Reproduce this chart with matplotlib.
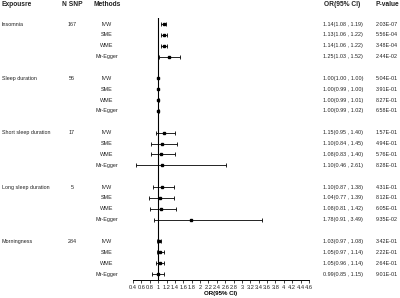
import matplotlib
matplotlib.use("Agg")
from matplotlib import pyplot as plt
from matplotlib import transforms

plt.rcParams["font.family"] = ["Liberation Sans", "DejaVu Sans"]

exposures = ["Insomnia", "Sleep duration", "Short sleep duration", "Long sleep duration", "Morningness"]
n_snp = [167, 56, 17, 5, 284]
methods = ["IVW", "SME", "WME", "Mr-Egger"]

or_est = [
    [1.14, 1.13, 1.14, 1.25],
    [1.00, 1.00, 1.00, 1.00],
    [1.15, 1.10, 1.08, 1.10],
    [1.10, 1.04, 1.08, 1.78],
    [1.03, 1.05, 1.05, 0.99],
]
ci_low = [
    [1.08, 1.06, 1.06, 1.03],
    [1.00, 0.99, 0.99, 0.99],
    [0.95, 0.84, 0.83, 0.46],
    [0.87, 0.77, 0.81, 0.91],
    [0.97, 0.97, 0.96, 0.85],
]
ci_high = [
    [1.19, 1.22, 1.22, 1.52],
    [1.00, 1.00, 1.01, 1.02],
    [1.40, 1.45, 1.40, 2.61],
    [1.38, 1.39, 1.42, 3.49],
    [1.08, 1.14, 1.14, 1.15],
]
p_values = [
    ["2.03E-07", "5.56E-04", "3.48E-04", "2.44E-02"],
    ["5.04E-01", "3.91E-01", "8.27E-01", "6.58E-01"],
    ["1.57E-01", "4.94E-01", "5.76E-01", "8.28E-01"],
    ["4.31E-01", "8.12E-01", "6.05E-01", "9.35E-02"],
    ["3.42E-01", "2.22E-01", "2.64E-01", "9.01E-01"],
]
x_ticks = [round(0.4 + 0.2 * i, 1) for i in range(22)]

fig = plt.figure(figsize=(4.0, 2.98), dpi=100)
ax = fig.add_axes([0.3325, 0.0604, 0.44, 0.879])

text_kw = dict(fontsize=3.9, color="#222222", va="center")
head_kw = dict(fontsize=4.8, color="#222222", va="center", fontweight="bold")

# row positions: 4 methods per exposure plus a blank row between groups
trans = transforms.blended_transform_factory(fig.transFigure, ax.transData)
for g, exp in enumerate(exposures):
    for m, meth in enumerate(methods):
        y = g * 5 + m
        est, lo, hi = or_est[g][m], ci_low[g][m], ci_high[g][m]
        ax.errorbar(est, y, xerr=[[est - lo], [hi - est]], fmt="s", color="black",
                    ms=1.6, elinewidth=0.6, capsize=1.4, capthick=0.6)
        fig.text(0.267, y, meth, transform=trans, ha="center", **text_kw)
        fig.text(0.807, y, f"{est:.2f}({lo:.2f} , {hi:.2f})", transform=trans, ha="left", **text_kw)
        fig.text(0.94, y, p_values[g][m], transform=trans, ha="left", **text_kw)
    fig.text(0.004, g * 5, exp, transform=trans, ha="left", **text_kw)
    fig.text(0.18, g * 5, str(n_snp[g]), transform=trans, ha="center", **text_kw)

# header
hy = 0.984
fig.text(0.004, hy, "Expousre", ha="left", **head_kw)
fig.text(0.18, hy, "N SNP", ha="center", **head_kw)
fig.text(0.267, hy, "Methods", ha="center", **head_kw)
fig.text(0.855, hy, "OR(95% CI)", ha="center", **head_kw)
fig.text(0.94, hy, "P-value", ha="left", **head_kw)

ax.axvline(1, color="black", lw=0.8)
ax.set_xlim(0.4, 4.6)
ax.set_ylim(23.55, -0.55)
ax.set_xticks(x_ticks)
ax.set_xticklabels([f"{t:g}" for t in x_ticks])
ax.tick_params(axis="x", labelsize=4.1, length=2.5, width=0.6, pad=1.2, colors="#222222")
ax.set_yticks([])
for side in ["left", "top", "right"]:
    ax.spines[side].set_visible(False)
ax.spines["bottom"].set_linewidth(0.7)
ax.set_xlabel("OR(95% CI)", fontsize=4.4, fontweight="bold", labelpad=0.5)

plt.savefig("out.png", dpi=100)
